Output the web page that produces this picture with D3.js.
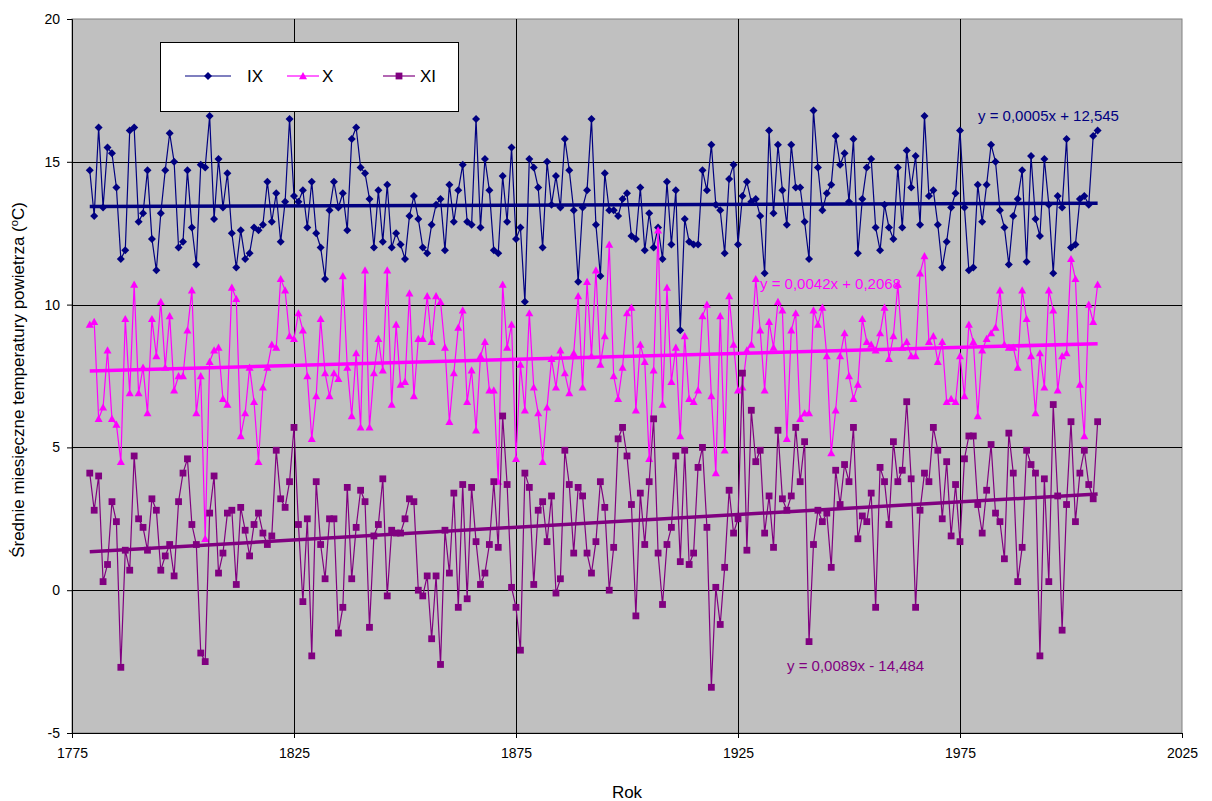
<!DOCTYPE html>
<html>
<head>
<meta charset="utf-8">
<script src="https://cdn.jsdelivr.net/npm/d3@7"></script>
<style>
  body { margin: 0; background: #fff; }
  svg text { font-family: "Liberation Sans", Arial, sans-serif; }
</style>
</head>
<body>
<div id="chart"></div>
<script>
const FIRST_YEAR = 1779;
const LAST_YEAR = 2006;
const years = d3.range(FIRST_YEAR, LAST_YEAR + 1);

const xTicks = [1775, 1825, 1875, 1925, 1975, 2025];
const yTicks = [-5, 0, 5, 10, 15, 20];

const seriesNames = ["IX", "X", "XI"];

const ixValues = [
    14.7, 13.1, 16.2, 13.4, 15.5, 15.3, 14.1, 11.6, 11.9, 16.1, 16.2, 12.9, 13.2, 14.7, 12.3, 11.2, 13.2, 14.7, 16.0, 15.0,
    12.0, 12.2, 14.7, 12.7, 11.4, 14.9, 14.8, 16.6, 13.0, 15.1, 13.4, 14.6, 12.5, 11.3, 12.6, 11.6, 11.8, 12.7,
    12.6, 12.8, 14.3, 12.9, 13.9, 12.2, 13.6, 16.5, 13.8, 13.6, 14.0, 12.7, 14.3, 12.5, 12.0, 10.9, 13.3, 14.3, 13.4, 13.9,
    12.6, 15.8, 16.2, 14.8, 14.6, 13.7, 12.0, 14.0, 12.2, 14.2, 12.0, 12.5, 12.1, 11.6, 13.1, 13.8, 13.0, 12.0,
    11.8, 12.8, 13.5, 13.7, 11.9, 14.2, 12.9, 14.0, 14.9, 12.9, 12.8, 16.5, 12.7, 15.1, 14.0, 11.9, 11.8, 14.5, 12.9, 15.5,
    12.3, 12.7, 10.1, 15.1, 14.8, 14.1, 12.0, 15.0, 13.5, 14.5, 13.4, 15.8, 14.7, 13.3, 10.8, 13.4, 14.0, 16.5,
    12.8, 11.0, 14.6, 13.3, 13.3, 13.1, 13.7, 13.9, 12.4, 12.3, 14.1, 11.9, 13.2, 12.0, 12.7, 11.6, 14.3, 12.1, 14.0, 9.1,
    13.0, 12.2, 12.1, 12.1, 14.7, 14.0, 15.6, 13.5, 13.3, 11.8, 14.4, 14.9, 12.1, 13.8, 14.3, 13.6, 13.7,
    13.1, 11.1, 16.1, 13.2, 15.6, 14.0, 12.8, 15.6, 14.1, 14.1, 12.9, 11.6, 16.8, 14.8, 13.3, 13.9, 14.2, 15.9, 14.9, 15.3,
    13.6, 15.8, 11.8, 13.7, 14.8, 15.1, 12.7, 11.9, 13.5, 12.7, 12.3, 14.8, 12.7, 15.4, 14.1, 15.2, 12.8, 16.6, 13.8,
    14.0, 12.8, 11.3, 12.2, 13.4, 13.9, 16.1, 13.4, 11.2, 11.3, 14.2, 12.9, 14.2, 15.6, 15.0, 13.3, 12.7, 11.4, 13.1, 13.7,
    14.7, 11.5, 15.2, 13.0, 12.4, 15.1, 13.5, 11.1, 13.8, 13.4, 15.8, 12.0, 12.1, 13.7, 13.8, 13.5, 15.9, 16.1
];

const xValues = [
    9.3, 9.4, 6.0, 6.4, 8.4, 6.0, 5.8, 4.5, 9.5, 6.9, 10.7, 6.9, 7.8, 6.2, 9.5, 8.2, 10.1, 7.8, 9.6, 7.0,
    7.5, 7.5, 9.1, 10.5, 6.2, 7.5, 1.8, 8.0, 8.4, 8.5, 6.7, 6.5, 10.6, 10.2, 5.4, 6.2, 7.8, 6.6,
    4.5, 7.1, 7.8, 8.6, 8.5, 10.9, 10.5, 8.9, 8.8, 9.7, 9.1, 7.5, 5.3, 6.8, 9.5, 7.6, 6.8, 7.6, 7.4, 11.0,
    7.8, 6.1, 8.3, 5.7, 11.2, 5.7, 7.6, 8.8, 7.7, 11.2, 6.5, 9.3, 7.2, 7.3, 10.4, 6.8, 8.8, 8.8,
    10.3, 8.7, 10.3, 10.1, 8.5, 5.9, 7.6, 9.2, 9.8, 6.6, 7.7, 5.6, 8.2, 8.7, 7.0, 7.0, 3.8, 10.7, 8.5, 9.3,
    4.6, 7.9, 6.3, 9.7, 7.1, 6.2, 4.5, 6.4, 8.1, 7.1, 8.4, 7.6, 6.9, 8.3, 10.3, 7.1, 10.8, 8.2,
    11.2, 7.9, 8.9, 12.1, 7.5, 6.7, 7.8, 9.7, 9.9, 6.3, 8.6, 8.0, 4.6, 7.7, 12.6, 6.5, 10.6, 7.3, 8.5, 5.4,
    8.9, 6.7, 6.6, 7.0, 9.6, 10.0, 6.8, 4.1, 9.6, 4.9, 10.3, 8.6, 7.0, 7.1, 8.4, 8.6, 10.9,
    9.1, 7.0, 9.4, 8.5, 10.1, 9.8, 5.3, 9.1, 9.7, 6.0, 6.2, 6.2, 9.8, 9.3, 9.9, 8.2, 4.8, 6.3, 8.2, 9.0,
    7.5, 6.7, 7.2, 9.5, 8.7, 8.6, 8.4, 9.0, 9.9, 8.1, 8.9, 10.7, 8.5, 8.7, 8.2, 8.2, 11.1, 11.7, 8.7,
    8.9, 8.0, 8.7, 6.6, 6.7, 6.6, 8.2, 6.8, 9.3, 8.7, 6.1, 8.4, 8.8, 9.0, 9.2, 10.5, 8.6, 8.5, 8.5, 7.8,
    10.5, 9.5, 8.2, 6.2, 8.3, 7.1, 10.5, 9.8, 7.0, 8.2, 8.3, 11.6, 10.9, 7.2, 5.4, 10.0, 9.4, 10.7
];

const xiValues = [
    4.1, 2.8, 4.0, 0.3, 0.9, 3.1, 2.4, -2.7, 1.4, 0.7, 4.7, 2.5, 2.2, 1.4, 3.2, 2.8, 0.7, 1.2, 1.6, 0.5,
    3.1, 4.1, 4.6, 2.3, 1.6, -2.2, -2.5, 2.7, 4.0, 0.6, 1.3, 2.7, 2.8, 0.2, 2.9, 2.1, 1.2, 2.3,
    2.7, 2.0, 1.6, 1.9, 4.9, 3.2, 2.9, 3.8, 5.7, 2.3, -0.4, 2.5, -2.3, 3.8, 1.6, 0.4, 2.5, 2.5, -1.5, -0.6,
    3.6, 0.4, 2.2, 3.5, 3.1, -1.3, 1.9, 2.3, 3.9, -0.2, 2.1, 2.0, 2.0, 2.5, 3.2, 3.1, 0.0, -0.2,
    0.5, -1.7, 0.5, -2.6, 2.1, 0.6, 3.4, -0.6, 3.7, -0.3, 3.6, 1.7, 0.2, 0.6, 1.6, 3.8, 1.5, 6.1, 3.7, 0.1,
    -0.6, -2.1, 4.1, 3.6, 0.2, 2.8, 3.1, 1.7, 3.3, -0.1, 0.4, 4.9, 3.7, 1.3, 3.6, 3.3, 1.3, 0.6,
    1.7, 3.8, 2.9, 0.0, 1.5, 5.3, 5.7, 4.7, 3.0, -0.9, 3.4, 1.6, 3.8, 6.0, 1.3, -0.5, 1.6, 2.2, 4.7, 1.0,
    4.9, 0.9, 1.3, 4.3, 5.0, 2.2, -3.4, 0.1, -1.2, 0.8, 3.5, 2.0, 2.5, 7.6, 1.4, 6.3, 4.5,
    4.9, 2.0, 3.3, 1.5, 5.6, 3.2, 2.8, 3.3, 5.7, 3.8, 5.2, -1.8, 1.6, 2.8, 2.4, 2.7, 0.8, 4.2, 3.0, 4.4,
    3.8, 5.7, 1.8, 2.6, 2.4, 3.4, -0.6, 4.3, 3.8, 2.3, 5.2, 3.8, 4.2, 6.6, 3.9, -0.6, 2.8, 4.1, 3.8,
    5.7, 4.9, 2.5, 4.5, 1.9, 3.7, 1.7, 4.6, 5.4, 5.4, 3.0, 2.0, 3.5, 5.1, 2.7, 2.4, 1.1, 5.5, 4.1, 0.3,
    1.5, 4.9, 4.4, 4.1, -2.3, 3.9, 0.3, 6.5, 3.3, -1.4, 3.0, 5.9, 2.4, 4.1, 4.9, 3.7, 3.2, 5.9
];

// linear trend coefficients (slope, intercept) as printed on the chart
const trendSlopes = [0.0005, 0.0042, 0.0089];
const trendIntercepts = [12.545, 0.2068, -14.484];
const trendLabels = ["y = 0,0005x + 12,545", "y = 0,0042x + 0,2068", "y = 0,0089x - 14,484"];

const colors = ["#000080", "#ff00ff", "#800080"];
const markers = ["diamond", "triangle", "square"];
const allValues = [ixValues, xValues, xiValues];

const W = 1212, H = 801;
const plot = { left: 72, right: 1182, top: 19, bottom: 733 };

const svg = d3.select("#chart").append("svg")
    .attr("width", W)
    .attr("height", H);

svg.append("rect").attr("width", W).attr("height", H).attr("fill", "#fff");

const x = d3.scaleLinear().domain([1775, 2025]).range([plot.left, plot.right]);
const y = d3.scaleLinear().domain([-5, 20]).range([plot.bottom, plot.top]);

// plot background
svg.append("rect")
    .attr("x", plot.left)
    .attr("y", plot.top)
    .attr("width", plot.right - plot.left)
    .attr("height", plot.bottom - plot.top)
    .attr("fill", "#c0c0c0")
    .attr("stroke", "#808080")
    .attr("stroke-width", 1);

// grid lines
svg.append("g")
    .selectAll("line.h")
    .data(yTicks.filter(d => d > -5 && d < 20))
    .enter()
    .append("line")
    .attr("x1", plot.left).attr("x2", plot.right)
    .attr("y1", d => Math.round(y(d)) + 0.5).attr("y2", d => Math.round(y(d)) + 0.5)
    .attr("stroke", "#000").attr("stroke-width", 1);

svg.append("g")
    .selectAll("line.v")
    .data(xTicks.filter(d => d > 1775 && d < 2025))
    .enter()
    .append("line")
    .attr("y1", plot.top).attr("y2", plot.bottom)
    .attr("x1", d => Math.round(x(d)) + 0.5).attr("x2", d => Math.round(x(d)) + 0.5)
    .attr("stroke", "#000").attr("stroke-width", 1);

// axes
const xAxis = svg.append("g")
    .attr("transform", `translate(0,${plot.bottom})`)
    .call(d3.axisBottom(x).tickValues(xTicks).tickSize(5).tickFormat(d3.format("d")));
const yAxis = svg.append("g")
    .attr("transform", `translate(${plot.left},0)`)
    .call(d3.axisLeft(y).tickValues(yTicks).tickSize(5).tickFormat(d => d));

[xAxis, yAxis].forEach(a => {
    a.select(".domain").attr("stroke", "#000");
    a.selectAll(".tick line").attr("stroke", "#000");
    a.selectAll(".tick text")
        .attr("fill", "#000")
        .style("font-size", "14px")
        .style("font-family", '"Liberation Sans", Arial, sans-serif');
});
xAxis.selectAll(".tick text").attr("dy", "1.2em");
yAxis.selectAll(".tick text").attr("x", -12);

function markerPath(type, s) {
    if (type === "diamond") return `M0,${-s}L${s},0L0,${s}L${-s},0Z`;
    if (type === "triangle") return `M0,${-s}L${s},${s * 0.8}L${-s},${s * 0.8}Z`;
    return `M${-s * 0.85},${-s * 0.85}H${s * 0.85}V${s * 0.85}H${-s * 0.85}Z`;
}

const line = d3.line()
    .x(d => x(d.year))
    .y(d => y(d.value));

allValues.forEach((vals, i) => {
    const pts = years.map((yr, k) => ({ year: yr, value: vals[k] }));
    const g = svg.append("g");

    g.append("path")
        .datum(pts)
        .attr("fill", "none")
        .attr("stroke", colors[i])
        .attr("stroke-width", 1.2)
        .attr("d", line);

    g.selectAll("path.m")
        .data(pts)
        .enter()
        .append("path")
        .attr("class", "m")
        .attr("transform", d => `translate(${x(d.year)},${y(d.value)})`)
        .attr("d", markerPath(markers[i], 4))
        .attr("fill", colors[i]);
});

// trend lines on top
allValues.forEach((vals, i) => {
    const ends = [FIRST_YEAR, LAST_YEAR].map(yr => ({ year: yr, value: trendSlopes[i] * yr + trendIntercepts[i] }));
    svg.append("path")
        .datum(ends)
        .attr("fill", "none")
        .attr("stroke", colors[i])
        .attr("stroke-width", 3.5)
        .attr("d", line);
});

// equation labels
const eqPos = [[978, 121], [760, 289], [787, 671]];
trendLabels.forEach((t, i) => {
    svg.append("text")
        .attr("x", eqPos[i][0])
        .attr("y", eqPos[i][1])
        .attr("fill", colors[i])
        .style("font-size", "15px")
        .text(t);
});

// legend
const legend = svg.append("g");
legend.append("rect")
    .attr("x", 160.5).attr("y", 42.5)
    .attr("width", 298).attr("height", 69)
    .attr("fill", "#fff").attr("stroke", "#000");

const legendItems = [
    { lx1: 185, lx2: 231, tx: 247 },
    { lx1: 287, lx2: 319, tx: 322 },
    { lx1: 383, lx2: 415, tx: 420 }
];
legendItems.forEach((it, i) => {
    const ly = 76;
    legend.append("line")
        .attr("x1", it.lx1).attr("x2", it.lx2)
        .attr("y1", ly).attr("y2", ly)
        .attr("stroke", colors[i]).attr("stroke-width", 1.2);
    legend.append("path")
        .attr("transform", `translate(${(it.lx1 + it.lx2) / 2},${ly})`)
        .attr("d", markerPath(markers[i], 4))
        .attr("fill", colors[i]);
    legend.append("text")
        .attr("x", it.tx).attr("y", ly + 6)
        .attr("fill", "#000")
        .style("font-size", "17px")
        .text(seriesNames[i]);
});

// axis titles
svg.append("text")
    .attr("x", (plot.left + plot.right) / 2)
    .attr("y", 798)
    .attr("text-anchor", "middle")
    .style("font-size", "17px")
    .text("Rok");

const yTitle = svg.append("text")
    .attr("transform", `translate(24,${(plot.top + plot.bottom) / 2 + 4}) rotate(-90)`)
    .attr("text-anchor", "middle")
    .style("font-size", "17px");
yTitle.append("tspan").text("Średnie miesięczne temperatury powietrza (");
yTitle.append("tspan").attr("dy", -6).style("font-size", "11px").text("o");
yTitle.append("tspan").attr("dy", 6).text("C)");
</script>
</body>
</html>
